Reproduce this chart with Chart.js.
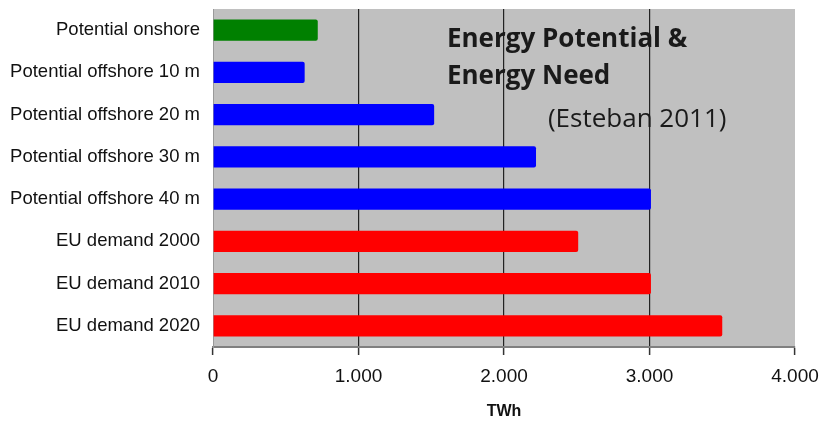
<!DOCTYPE html>
<html><head><meta charset="utf-8">
<script src="https://cdn.jsdelivr.net/npm/chart.js@4"></script>
<style>html,body{margin:0;padding:0;background:#fff;}#wrap{width:819px;height:423px;}</style>
</head><body><div id="wrap"><canvas id="c" width="819" height="423"></canvas></div>
<script>
const categories = ["Potential onshore","Potential offshore 10 m","Potential offshore 20 m","Potential offshore 30 m","Potential offshore 40 m","EU demand 2000","EU demand 2010","EU demand 2020"];
const values = [720, 630, 1520, 2220, 3010, 2510, 3010, 3500];
const barColors = ["#008000","#0000ff","#0000ff","#0000ff","#0000ff","#ff0000","#ff0000","#ff0000"];
const xTicks = [0, 1000, 2000, 3000, 4000];
const titleLines = ["Energy Potential &", "Energy Need"];
const subtitle = "(Esteban 2011)";
const axisTitle = "TWh";

const bgPlugin = {
  id: 'bg',
  beforeDraw(chart) {
    const a = chart.chartArea, ctx = chart.ctx;
    ctx.save(); ctx.fillStyle = '#c0c0c0';
    ctx.fillRect(a.left, a.top, a.right - a.left, a.bottom - a.top);
    ctx.restore();
  }
};
const textPlugin = {
  id: 'txt',
  afterDatasetsDraw(chart) {
    const ctx = chart.ctx, x = chart.scales.x, t = chart.chartArea.top;
    ctx.save();
    ctx.fillStyle = '#1a1a1a';
    ctx.textBaseline = 'alphabetic';
    ctx.textAlign = 'left';
    ctx.font = 'bold 26px "Open Sans", sans-serif';
    const x0 = x.getPixelForValue(1608);
    ctx.fillText(titleLines[0], x0, t + 38);
    ctx.fillText(titleLines[1], x0, t + 75);
    ctx.font = '26px "Open Sans", sans-serif';
    ctx.fillText(subtitle, x.getPixelForValue(2302), t + 118);
    ctx.restore();
  }
};

new Chart(document.getElementById('c'), {
  type: 'bar',
  data: {
    labels: categories,
    datasets: [{ data: values, backgroundColor: barColors, borderWidth: 0, borderRadius: 2, barPercentage: 1.0, categoryPercentage: 0.5 }]
  },
  options: {
    indexAxis: 'y',
    responsive: false,
    animation: false,
    devicePixelRatio: 1,
    layout: { padding: { top: 9, right: 24, bottom: 2, left: 0 } },
    plugins: { legend: { display: false }, tooltip: { enabled: false } },
    scales: {
      x: {
        min: 0, max: 4000,
        afterBuildTicks(s) { s.ticks = xTicks.map(v => ({ value: v })); },
        afterFit(s) { s.height = 74; s.paddingLeft = 0; s.paddingRight = 0; },
        ticks: {
          color: '#111', padding: 10,
          font: { family: '"Liberation Sans", Arial, sans-serif', size: 19 },
          callback: v => v.toLocaleString('de-DE')
        },
        grid: {
          color: ctx => (ctx.index === 0 || ctx.index === 4) ? 'rgba(0,0,0,0)' : '#222',
          lineWidth: 1.2, tickLength: 8, tickColor: '#333', tickWidth: 1.5
        },
        border: { display: true, color: '#808080', width: 2 },
        title: { display: true, text: axisTitle, color: '#111', padding: { top: 2, bottom: 0 },
          font: { family: '"Liberation Sans", Arial, sans-serif', size: 16, weight: 'bold' } }
      },
      y: {
        afterFit(s) { s.width = 213; s.paddingTop = 0; s.paddingBottom = 0; },
        ticks: { color: '#111', padding: 13,
          font: { family: '"Liberation Sans", Arial, sans-serif', size: 18.5 } },
        grid: { display: false, drawTicks: false },
        border: { display: true, color: '#9a9a9a', width: 1 }
      }
    }
  },
  plugins: [bgPlugin, textPlugin]
});
</script></body></html>
